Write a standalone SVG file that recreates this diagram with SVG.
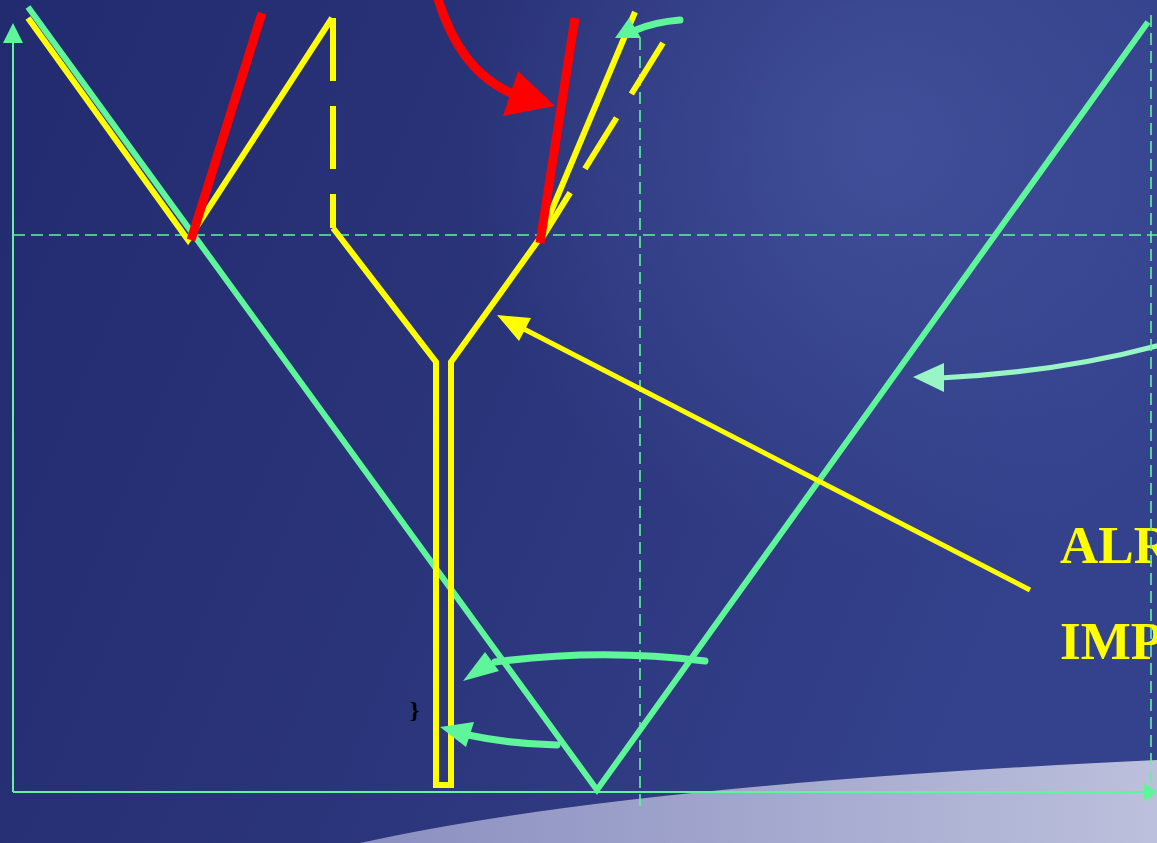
<svg xmlns="http://www.w3.org/2000/svg" width="1157" height="843" viewBox="0 0 1157 843">
<defs>
<linearGradient id="bg" x1="0" y1="0" x2="1" y2="0.3">
<stop offset="0" stop-color="#232b70"/>
<stop offset="0.5" stop-color="#2a3479"/>
<stop offset="1" stop-color="#34418c"/>
</linearGradient>
<radialGradient id="cloud" cx="880" cy="140" r="420" gradientUnits="userSpaceOnUse">
<stop offset="0" stop-color="#4a5aa6" stop-opacity="0.65"/>
<stop offset="1" stop-color="#4a5aa6" stop-opacity="0"/>
</radialGradient>
<linearGradient id="ground" x1="0" y1="0" x2="1" y2="0">
<stop offset="0" stop-color="#8a8fc0"/>
<stop offset="1" stop-color="#bcc0dc"/>
</linearGradient>
<style>
.axis{stroke:#5ff59a;stroke-width:2;fill:none}
.dash{stroke:#5ff59a;stroke-width:1.6;fill:none;stroke-dasharray:12 6}
.green{stroke:#5ff59a;stroke-width:6;fill:none;stroke-linecap:butt}
.garrow{stroke:#5ff59a;stroke-width:7;fill:none;stroke-linecap:round}
.yellow{stroke:#ffff00;stroke-width:6;fill:none;stroke-linejoin:miter}
.red{stroke:#ff0000;stroke-width:9;fill:none}
.lbl{font-family:"Liberation Serif",serif;font-weight:bold;fill:#ffff00;font-size:53px}
</style>
</defs>
<rect width="1157" height="843" fill="url(#bg)"/>
<rect width="1157" height="843" fill="url(#cloud)"/>
<path d="M360 843 Q620 785 1157 760 L1157 843 Z" fill="url(#ground)"/>

<g id="axes">
<line class="axis" x1="13" y1="792" x2="13" y2="40"/>
<polygon points="13,23 3,43 23,43" fill="#5ff59a"/>
<line class="axis" x1="13" y1="792" x2="1146" y2="792"/>
<polygon points="1157,792 1144,783 1144,801" fill="#5ff59a"/>
<line class="dash" x1="13" y1="235" x2="1157" y2="235"/>
<line class="dash" x1="640" y1="38" x2="640" y2="806"/>
</g>

<g id="green-v">
<polyline class="green" points="28,7 597,790 1148,22"/>
</g>

<g id="yellow-structure">
<polyline class="yellow" points="28,18 188,240 332,18"/>
<line class="yellow" x1="333" y1="18" x2="333" y2="228" stroke-dasharray="63 25"/>
<polyline class="yellow" points="333,228 436,362 436,785 451,785 451,362 540,238 635,12"/>
<line class="yellow" x1="663" y1="43" x2="542" y2="238" stroke-dasharray="60 28"/>
</g>

<g id="red-lines">
<line class="red" x1="262" y1="13" x2="191" y2="240"/>
<line class="red" x1="575" y1="18" x2="540" y2="243"/>
<path class="red" stroke-width="10" d="M437 -4 C452 45 475 78 515 95"/>
<polygon points="555,106 503,116 518,71" fill="#ff0000"/>
</g>

<g id="labels">
<text class="lbl" x="1060" y="563">ALR</text>
<text class="lbl" x="1060" y="659">IMP</text>
<text x="410" y="718" font-family="Liberation Serif,serif" font-weight="bold" font-size="24" fill="#000">}</text>
</g>

<g id="connectors">
<path class="garrow" d="M680 20 Q655 22 636 30"/>
<polygon points="615,38 629,18 641,38" fill="#5ff59a"/>
<path d="M1160 345 Q1060 372 940 378" stroke="#98f5c6" stroke-width="5" fill="none"/>
<polygon points="913,377 944,363 944,392" fill="#98f5c6"/>
<line x1="1030" y1="590" x2="522" y2="328" stroke="#ffff00" stroke-width="5"/>
<polygon points="497,315 531,318 519,341" fill="#ffff00"/>
<path class="garrow" d="M705 661 Q600 648 495 662"/>
<polygon points="463,681 485,652 499,671" fill="#5ff59a"/>
<path class="garrow" d="M557 745 Q510 744 468 735"/>
<polygon points="440,727 474,722 466,747" fill="#5ff59a"/>
</g>

<g id="right-guide">
<line class="dash" x1="1151" y1="15" x2="1151" y2="803"/>
</g>
</svg>
